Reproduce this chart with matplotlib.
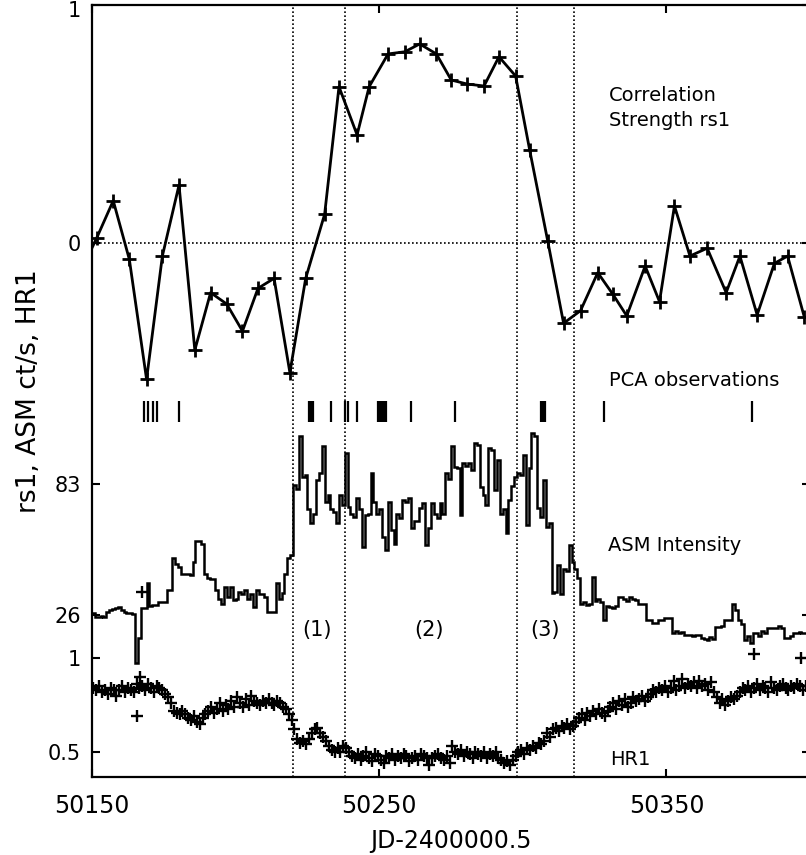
import numpy as np
import matplotlib
matplotlib.use('Agg')
import matplotlib.pyplot as plt
from matplotlib.transforms import ScaledTranslation

# correlation strength rs1 (one point per window)
corr_days = [50144.4, 50151.6, 50157.4, 50163.0, 50169.0, 50174.5, 50180.3, 50185.8, 50191.3,
             50196.9, 50202.4, 50207.8, 50213.4, 50218.9, 50224.4, 50231.0, 50236.0, 50242.3,
             50246.5, 50253.1, 50258.9, 50264.1, 50269.9, 50275.1, 50280.7, 50286.5, 50291.7,
             50297.5, 50302.4, 50308.7, 50314.2, 50320.1, 50326.1, 50331.3, 50336.2, 50342.6,
             50347.6, 50352.8, 50358.2, 50364.2, 50370.8, 50375.6, 50381.6, 50387.6, 50392.2,
             50398.0]
corr_vals = [-0.165, 0.018, 0.176, -0.071, -0.576, -0.057, 0.242, -0.453, -0.211,
             -0.259, -0.373, -0.193, -0.151, -0.548, -0.151, 0.119, 0.656, 0.453,
             0.656, 0.794, 0.803, 0.836, 0.794, 0.684, 0.667, 0.659, 0.782,
             0.701, 0.389, 0.005, -0.340, -0.287, -0.127, -0.217, -0.309, -0.099,
             -0.249, 0.154, -0.057, -0.024, -0.211, -0.057, -0.305, -0.088, -0.057,
             -0.313]

# PCA observation dates
pca_days = [50168.1, 50169.6, 50171.1, 50172.7, 50180.4, 50225.5, 50226.2, 50226.9,
            50233.1, 50238.2, 50239.0, 50242.2, 50249.5, 50250.2, 50250.9, 50251.6,
            50252.4, 50261.2, 50276.3, 50306.2, 50306.9, 50307.6, 50328.2, 50379.7]

# ASM daily intensity (ct/s), bins starting at 50150
asm_start = 50150
asm_vals = [27, 25, 25, 25.5, 25, 27.5, 28, 28.5, 29, 29.5,
            28, 27.5, 27, 27, 26.5, 5, 16, 29, 29, 40,
            30, 30.3, 30.3, 31.7, 31.7, 31.7, 37, 37, 50.8, 48,
            47, 43.8, 43.8, 44, 43.5, 49, 58, 58, 57, 44,
            42, 41.5, 41.8, 37, 33, 31, 38, 34, 38, 32.5,
            33, 36, 35, 37, 33, 35, 29.5, 37, 35, 35,
            34, 27.3, 27.3, 27.5, 40, 33, 35.6, 44, 51, 52,
            82.6, 81, 104, 86, 87, 72, 66, 70, 84.7, 87.8,
            99.5, 75, 78, 72, 71, 66, 78, 74, 96.5, 73,
            70, 68.6, 77, 72, 55.6, 69.5, 70, 87.8, 75, 70,
            72, 60, 54.3, 75, 63, 57, 70, 68, 76, 75,
            77, 64, 67, 67, 72.5, 74.7, 56.5, 64, 74.7, 70,
            68, 74.7, 70, 88, 85, 99.5, 90.4, 90, 69.5, 92,
            91, 92, 89, 100.8, 100, 81.7, 78, 74, 98.7, 98,
            80.4, 93.4, 70, 72, 61.7, 76, 82, 86, 88, 87,
            95.6, 65, 90, 105.2, 104, 72.5, 68.6, 84.7, 64.3, 66,
            35.6, 36, 47.8, 35, 46, 45, 56.5, 49, 46, 42,
            31, 31.5, 30.5, 31, 42.5, 32, 33, 31.5, 24, 30,
            29.5, 29, 30, 33.8, 34, 33, 32, 34, 33, 32.5,
            31, 31, 31, 23.8, 24, 22.5, 22.5, 23.8, 23.8, 24.7,
            24.7, 24.7, 18, 19, 18, 18.5, 17.5, 17.3, 17.5, 17,
            17.3, 17.5, 16, 15.6, 15, 16.5, 15.6, 20.8, 20.8, 21,
            23.8, 23.8, 24, 31, 28, 23.8, 22, 15, 17, 14,
            18, 18, 17, 19, 18, 20.3, 20.3, 20.3, 20.3, 21,
            20.3, 16, 16, 17, 18, 18, 18.5, 18, 18, 18]

# hardness ratio HR1, daily
hr_start = 50150.5
hr_vals = [0.84, 0.83, 0.85, 0.82, 0.83, 0.81, 0.84, 0.83, 0.80, 0.83, 0.85, 0.82, 0.84, 0.83, 0.82,
           0.86, 0.84, 0.85, 0.83, 0.86, 0.84, 0.82, 0.85, 0.84, 0.83, 0.81,
           0.79, 0.76,
           0.72, 0.71, 0.70, 0.72, 0.70,
           0.68, 0.67, 0.69, 0.66, 0.65, 0.68,
           0.70, 0.72, 0.74, 0.71, 0.73, 0.76,
           0.72, 0.75, 0.73, 0.77, 0.74,
           0.79, 0.76, 0.74, 0.78, 0.75, 0.80, 0.77, 0.76,
           0.75, 0.77, 0.76, 0.78, 0.76, 0.75, 0.77, 0.76, 0.74, 0.73,
           0.70, 0.67,
           0.62, 0.57, 0.55, 0.56, 0.54, 0.57, 0.60, 0.62,
           0.63, 0.60, 0.58, 0.56, 0.53,
           0.51, 0.50, 0.52, 0.50, 0.53, 0.52,
           0.50, 0.48, 0.47, 0.49, 0.46, 0.48, 0.50, 0.47, 0.45, 0.49, 0.48, 0.46,
           0.44, 0.48, 0.47, 0.49, 0.46, 0.48, 0.47, 0.49, 0.48, 0.45, 0.47, 0.48,
           0.46, 0.49, 0.48, 0.47, 0.43, 0.47, 0.48, 0.49, 0.47, 0.46, 0.48, 0.44,
           0.53, 0.50, 0.49, 0.51, 0.48, 0.50, 0.49, 0.47, 0.50, 0.49, 0.48, 0.50,
           0.47, 0.49, 0.48, 0.50, 0.47,
           0.46, 0.44, 0.45, 0.43, 0.46,
           0.48, 0.50, 0.51, 0.49, 0.52, 0.51,
           0.53, 0.52, 0.55, 0.54,
           0.56, 0.60, 0.58, 0.62, 0.63, 0.61, 0.64,
           0.63, 0.65, 0.62, 0.64, 0.66,
           0.68, 0.70, 0.67, 0.71, 0.69, 0.72, 0.70, 0.73, 0.71, 0.69, 0.72,
           0.74, 0.76, 0.73, 0.77, 0.75, 0.78, 0.74, 0.76, 0.79, 0.77, 0.78, 0.80,
           0.77, 0.79, 0.81,
           0.83, 0.82, 0.84, 0.83, 0.85, 0.82, 0.84, 0.88, 0.83, 0.85, 0.89, 0.84, 0.86,
           0.85, 0.87, 0.84, 0.88, 0.85, 0.86, 0.83, 0.87, 0.82, 0.79,
           0.76, 0.78, 0.75, 0.77, 0.79, 0.78, 0.80,
           0.82, 0.84, 0.83, 0.85, 0.82, 0.84, 0.86, 0.83, 0.85, 0.84, 0.82, 0.87,
           0.84, 0.83, 0.85, 0.86, 0.84, 0.83, 0.85, 0.84, 0.86, 0.85, 0.83, 0.85]
# HR1 outliers
hr_out_days = [50165.5, 50166.7, 50167.3, 50380.6, 50396.9]
hr_out_vals = [0.69, 0.90, 1.35, 1.02, 1.00]

# state boundaries (1), (2), (3)
bounds = [50220, 50238, 50298, 50318]

xlim = (50150, 50400)
dot = dict(color='k', lw=1.2, ls=(0, (1.0, 1.4)))

fig = plt.figure(figsize=(8.06, 8.55), dpi=100)
rect = [92 / 806, 78 / 855, 718 / 806, 772 / 855]
ax = fig.add_axes(rect)
ax_asm = fig.add_axes(rect, sharex=ax)
ax_hr = fig.add_axes(rect, sharex=ax)

ax.set_xlim(*xlim)
ax.set_ylim(-2.2505, 1)
ax_asm.set_ylim(-44.49, 291.42)
ax_hr.set_ylim(0.367, 4.4734)

for a in (ax_asm, ax_hr):
    a.patch.set_visible(False)
    for s in a.spines.values():
        s.set_visible(False)
    a.tick_params(axis='x', bottom=False, top=False, labelbottom=False)

for s in ax.spines.values():
    s.set_linewidth(1.6)

ax.set_xticks([50150, 50250, 50350])
ax.set_xticklabels(['50150', '50250', '50350'])
ax.tick_params(axis='x', direction='in', top=True, bottom=True, length=6, width=1.5,
               labelsize=17, pad=12)

for a, ticks, labels in ((ax, [0, 1], ['0', '1']),
                         (ax_asm, [26, 83], ['26', '83']),
                         (ax_hr, [0.5, 1], ['0.5', '1'])):
    a.set_yticks(ticks)
    a.set_yticklabels(labels)
    a.tick_params(axis='y', direction='in', left=True, right=True, length=6, width=1.5,
                  labelsize=15, pad=8)

# nudge the top "1" label down so it stays inside the figure
top_lab = ax.get_yticklabels()[1]
top_lab.set_transform(top_lab.get_transform() + ScaledTranslation(0, -3 / 72, fig.dpi_scale_trans))

# correlation panel
ax.axhline(0, **dot)
for b in bounds:
    ax.axvline(b, **dot)
ax.plot(corr_days, corr_vals, color='k', lw=2, marker='+', ms=10, mew=2)
ax.vlines(pca_days, -0.755, -0.667, color='k', lw=1.6)

# ASM histogram
edges = asm_start + np.arange(len(asm_vals) + 1)
ax_asm.stairs(asm_vals, edges, color='k', lw=1.8, baseline=None)

# HR1 points
hr_days = hr_start + np.arange(len(hr_vals))
ax_hr.plot(hr_days, hr_vals, 'k+', ms=9, mew=1.7)
ax_hr.plot(hr_out_days, hr_out_vals, 'k+', ms=9, mew=1.7)

ax.set_xlabel('JD-2400000.5', fontsize=17, labelpad=8)
ax.set_ylabel('rs1, ASM ct/s, HR1', fontsize=19)
ax.yaxis.set_label_coords(-0.07, 0.5)

tk = dict(transform=ax.transAxes, fontsize=14, va='center', ha='left')
ax.text(0.720, 0.8834, 'Correlation', **tk)
ax.text(0.720, 0.851, 'Strength rs1', **tk)
ax.text(0.720, 0.513, 'PCA observations', **tk)
ax.text(0.7187, 0.3005, 'ASM Intensity', **tk)
ax.text(0.7214, 0.0233, 'HR1', **tk)
pk = dict(transform=ax.transAxes, fontsize=15, va='center', ha='center')
ax.text(0.3134, 0.1904, '(1)', **pk)
ax.text(0.4694, 0.1904, '(2)', **pk)
ax.text(0.631, 0.1904, '(3)', **pk)

fig.savefig('out.png', dpi=100)
